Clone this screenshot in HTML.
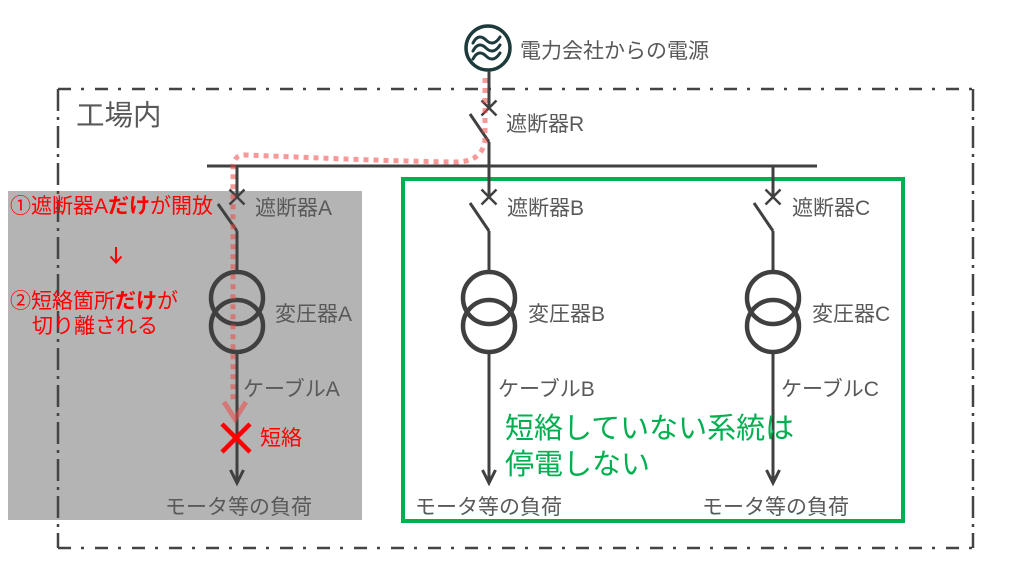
<!DOCTYPE html>
<html><head><meta charset="utf-8"><style>
html,body{margin:0;padding:0;background:#fff;}
svg{display:block;}
text{font-family:"Liberation Sans","Noto Sans CJK JP",sans-serif;}
</style></head><body>
<svg width="1024" height="576" viewBox="0 0 1024 576" xmlns="http://www.w3.org/2000/svg">
<rect x="0" y="0" width="1024" height="576" fill="#fff"/>
<!-- gray area -->
<rect x="8" y="191" width="354" height="329" fill="#b4b4b4"/>
<!-- factory frame -->
<g stroke="#444" stroke-width="2.5" fill="none">
<line x1="58" y1="89" x2="973" y2="89" stroke-dasharray="13 10 3 11"/>
<line x1="58" y1="548" x2="973" y2="548" stroke-dasharray="13 10 3 11"/>
<line x1="58" y1="89" x2="58" y2="548" stroke-dasharray="22 6 3 6"/>
<line x1="973" y1="89" x2="973" y2="548" stroke-dasharray="22 6 3 6"/>
</g>
<!-- green rect -->
<rect x="403" y="179" width="500" height="342" fill="none" stroke="#00b050" stroke-width="4"/>
<!-- power source -->
<circle cx="488" cy="48" r="22" fill="#fff" stroke="#1d3a3c" stroke-width="3.5"/>
<g stroke="#1d3a3c" stroke-width="3" fill="none" stroke-linecap="round">
<path d="M473,43 C477,35 482,36 486,40 C490,44 495,45 500,37"/>
<path d="M473,51 C477,43 482,44 486,48 C490,52 495,53 500,45"/>
<path d="M473,59 C477,51 482,52 486,56 C490,60 495,61 500,53"/>
</g>
<!-- main lines -->
<g stroke="#404040" stroke-width="3" fill="none">
<line x1="489" y1="71" x2="489" y2="108"/>
<line x1="481.5" y1="100.5" x2="496.5" y2="115.5" stroke-width="2.5"/>
<line x1="496.5" y1="100.5" x2="481.5" y2="115.5" stroke-width="2.5"/>
<line x1="470" y1="114" x2="489" y2="142"/>
<line x1="489" y1="142" x2="489" y2="166"/>
<line x1="207" y1="166" x2="817" y2="166"/>
</g>
<!-- branches -->
<g stroke="#404040" stroke-width="3" fill="none">
<!-- A -->
<line x1="237" y1="166" x2="237" y2="197"/>
<line x1="229.5" y1="189.5" x2="244.5" y2="204.5" stroke-width="2.5"/>
<line x1="244.5" y1="189.5" x2="229.5" y2="204.5" stroke-width="2.5"/>
<line x1="218" y1="204" x2="237" y2="231"/>
<line x1="237" y1="231" x2="237" y2="272"/>
<circle cx="237" cy="298" r="26" stroke-width="4.5"/>
<circle cx="237" cy="326" r="26" stroke-width="4.5"/>
<line x1="237" y1="352" x2="237" y2="482"/>
<polyline points="230.5,470 237,483 243.5,470"/>
<!-- B -->
<line x1="489" y1="166" x2="489" y2="197"/>
<line x1="481.5" y1="189.5" x2="496.5" y2="204.5" stroke-width="2.5"/>
<line x1="496.5" y1="189.5" x2="481.5" y2="204.5" stroke-width="2.5"/>
<line x1="470" y1="203" x2="489" y2="231"/>
<line x1="489" y1="231" x2="489" y2="272"/>
<circle cx="489" cy="298" r="26" stroke-width="4.5"/>
<circle cx="489" cy="326" r="26" stroke-width="4.5"/>
<line x1="489" y1="352" x2="489" y2="482"/>
<polyline points="482.5,470 489,483 495.5,470"/>
<!-- C -->
<line x1="773" y1="166" x2="773" y2="197"/>
<line x1="765.5" y1="189.5" x2="780.5" y2="204.5" stroke-width="2.5"/>
<line x1="780.5" y1="189.5" x2="765.5" y2="204.5" stroke-width="2.5"/>
<line x1="754" y1="203" x2="773" y2="231"/>
<line x1="773" y1="231" x2="773" y2="272"/>
<circle cx="773" cy="298" r="26" stroke-width="4.5"/>
<circle cx="773" cy="326" r="26" stroke-width="4.5"/>
<line x1="773" y1="352" x2="773" y2="482"/>
<polyline points="766.5,470 773,483 779.5,470"/>
</g>
<!-- pink dotted path -->
<path d="M485,78 L485,138 Q484,162 455,162 C380,161 300,157 245,155 Q233,155 233,168 L233,404" fill="none" stroke="rgba(240,70,70,0.55)" stroke-width="5" stroke-dasharray="5 5"/>
<polyline points="224,402 235,419 246,402" fill="none" stroke="rgba(240,70,70,0.55)" stroke-width="5"/>
<!-- red X -->
<g stroke="#ff0000" stroke-width="4.5">
<line x1="222" y1="424" x2="250" y2="452"/>
<line x1="250" y1="424" x2="222" y2="452"/>
</g>
<!-- red arrow -->
<g stroke="#ff0000" stroke-width="2" fill="none">
<line x1="116" y1="247" x2="116" y2="262"/>
<polyline points="110.5,256.5 116,262.5 121.5,256.5"/>
</g>
<!-- gray labels -->
<g fill="#595959" font-size="21">
<text x="520" y="58">電力会社からの電源</text>
<text x="76" y="125" font-size="28.5">工場内</text>
<text x="506" y="131">遮断器R</text>
<text x="255" y="215">遮断器A</text>
<text x="507" y="215">遮断器B</text>
<text x="792" y="215">遮断器C</text>
<text x="275" y="321">変圧器A</text>
<text x="528" y="321">変圧器B</text>
<text x="812" y="321">変圧器C</text>
<text x="243" y="396">ケーブルA</text>
<text x="498" y="396">ケーブルB</text>
<text x="781" y="396">ケーブルC</text>
<text x="165" y="514">モータ等の負荷</text>
<text x="415" y="514">モータ等の負荷</text>
<text x="702" y="514">モータ等の負荷</text>
</g>
<!-- red labels -->
<g fill="#ff0000" font-size="21">
<text x="10" y="213">①遮断器A<tspan font-weight="bold">だけ</tspan>が開放</text>
<text x="10" y="308">②短絡箇所<tspan font-weight="bold">だけ</tspan>が</text>
<text x="32" y="333">切り離される</text>
<text x="260" y="445">短絡</text>
</g>
<!-- green label -->
<g fill="#00b050" font-size="29">
<text x="505" y="438">短絡していない系統は</text>
<text x="505" y="474">停電しない</text>
</g>
</svg>
</body></html>
